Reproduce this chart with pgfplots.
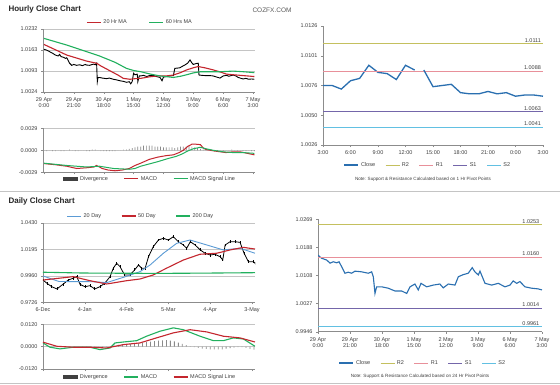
\documentclass[border=0pt]{standalone}
\usepackage{fontspec}
\setmainfont{Liberation Sans}
\usepackage{pgfplots}
\pgfplotsset{compat=1.18}
\definecolor{gridc}{HTML}{C4C4C4}
\definecolor{axc}{HTML}{8C8C8C}
\definecolor{txt}{HTML}{404040}
\definecolor{mared}{HTML}{C4262E}
\definecolor{magreen}{HTML}{22B05E}
\definecolor{closeblue}{HTML}{2A6FB0}
\definecolor{dblue}{HTML}{5B9BD5}
\definecolor{rtwo}{HTML}{C4C05E}
\definecolor{rone}{HTML}{E8909A}
\definecolor{sone}{HTML}{7466AA}
\definecolor{stwo}{HTML}{62C0E2}
\definecolor{divg}{HTML}{8A8A8A}
\tikzset{pivlab/.style={anchor=south east, font=\fontsize{5.5}{6.4}\selectfont, text=txt, inner sep=1pt}}
\pgfplotsset{
  panel/.style={
    scale only axis, anchor=south west,
    axis lines*=left, axis line style={axc, line width=0.5pt},
    tick style={axc, line width=0.4pt}, major tick length=2pt, tick align=outside,
    ticklabel style={font=\fontsize{5.5}{6.4}\selectfont, text=txt},
    xticklabel style={align=center},
    scaled y ticks=false, scaled x ticks=false,
    legend style={draw=none, fill=none, font=\fontsize{5.5}{6.5}\selectfont, text=txt, anchor=center, inner sep=0pt},
    legend columns=-1,
    legend image code/.code={\draw[##1] (0pt,0pt) -- (14pt,0pt);},
  },
  gridded/.style={ymajorgrids, major grid style={gridc, line width=0.4pt}},
}
\begin{document}
\begin{tikzpicture}
\useasboundingbox (0,0) rectangle (560pt,384pt);
\fill[white] (0,0) rectangle (560pt,384pt);
\draw[gridc, line width=0.6pt] (0,193pt) -- (560pt,193pt);
\draw[gridc, line width=0.5pt] (0,1pt) -- (560pt,1pt);
\node[anchor=west, font=\bfseries\fontsize{8}{9}\selectfont, text=black!85] at (5pt,375pt) {Hourly Close Chart};
\node[anchor=west, font=\bfseries\fontsize{8}{9}\selectfont, text=black!85] at (5pt,183pt) {Daily Close Chart};
\node[font=\fontsize{6.5}{7}\selectfont, text=black!65] at (272pt,374pt) {COZFX.COM};

% ---------------- Hourly close (top left)
\begin{axis}[panel, gridded, at={(43pt,292pt)}, width=212pt, height=63pt,
  xmin=-0.7, xmax=148.4, ymin=1.0024, ymax=1.0232,
  xtick={0,21,42,63,84,105,126,147},
  xticklabels={{29 Apr\\0:00},{29 Apr\\21:00},{30 Apr\\18:00},{1 May\\15:00},{2 May\\12:00},{3 May\\9:00},{6 May\\6:00},{7 May\\3:00}},
  ytick={1.0024,1.0093,1.0163,1.0232}, yticklabels={1.0024,1.0093,1.0163,1.0232},
  legend style={at={(0.458,1.11)}, /tikz/every even column/.append style={column sep=20pt}}]
\addplot[black, line width=0.9pt, forget plot] table {
0 1.0165
2 1.0162
4 1.0157
6 1.0152
8 1.0146
10 1.0143
11 1.0148
12 1.0141
14 1.0138
15 1.0135
16 1.0137
17 1.0128
18 1.0119
19.5 1.0112
21 1.0115
23 1.0112
25 1.0114
27 1.0111
29 1.0115
30 1.0113
32 1.0112
34.7 1.0116
36 1.0114
37 1.0119
37.5 1.0058
38 1.0072
39 1.0072
41 1.0070
44 1.0068
46 1.0070
48.8 1.0066
51 1.0064
53.5 1.0061
56 1.0059
58 1.0056
60 1.0058
61 1.0051
62 1.0058
63 1.0086
64 1.0081
65.6 1.0083
66 1.0058
67 1.0077
68 1.0077
70 1.0079
72.3 1.0075
74 1.0078
77 1.0079
79 1.0075
81.6 1.0072
83 1.0061
84 1.0073
86 1.0075
88 1.0077
91 1.0078
92 1.0102
94 1.0103
95.6 1.0104
97 1.0108
99 1.0113
101 1.0119
102.7 1.0130
104 1.0120
105 1.0115
107 1.0118
108.5 1.0119
109 1.0080
111 1.0079
114 1.0078
117 1.0078
119 1.0077
121 1.0074
123.8 1.0070
126 1.0077
128.4 1.0079
130 1.0076
133 1.0080
135 1.0077
136.6 1.0072
138 1.0070
140 1.0067
142 1.0069
144 1.0066
146 1.0067
148 1.0066
};
\addplot[mared, line width=1.1pt] table {
0 1.0181
16 1.0146
30 1.0126
37 1.0119
40 1.0110
46.4 1.0094
52 1.0080
55.8 1.0069
60.5 1.0066
64 1.0068
68 1.0069
74 1.0074
79.8 1.0077
86 1.0077
91 1.0080
96 1.0088
100.4 1.0097
105 1.0104
108.5 1.0108
113 1.0104
119 1.0097
124 1.0090
128.4 1.0083
133 1.0081
138 1.0079
143 1.0077
148 1.0075
};
\addlegendentry{20 Hr MA}
\addplot[magreen, line width=1.1pt] table {
0 1.0201
16 1.0179
39 1.0143
50 1.0122
58 1.0102
63 1.0095
68 1.0091
75 1.0083
81.6 1.0077
91 1.0072
96 1.0076
100.4 1.0081
105 1.0087
110 1.0091
117 1.0091
124 1.0091
133 1.0093
140 1.0091
148 1.0088
};
\addlegendentry{60 Hrs MA}
\end{axis}

% ---------------- Hourly MACD
\begin{axis}[panel, gridded, at={(43pt,211.7pt)}, width=212pt, height=44pt,
  xmin=-0.7, xmax=148.4, ymin=-0.0029, ymax=0.0029,
  xtick={0,21,42,63,84,105,126,147}, xticklabels={},
  ytick={-0.0029,0,0.0029}, yticklabels={-0.0029,0.0000,0.0029},
  legend style={at={(0.505,-0.152)}, /tikz/every even column/.append style={column sep=14pt}}]
\addplot[ybar, bar width=0.7pt, fill=divg, draw=none,
  legend image code/.code={\fill[black!75] (0pt,-1.6pt) rectangle (15pt,1.6pt);}] table {
0 0.0000
2 -0.0001
4 0.0000
6 -0.0001
8 -0.0001
10 0.0000
12 -0.0001
14 -0.0001
16 0.0000
18 0.0001
20 0.0000
22 -0.0001
24 -0.0001
26 0.0000
28 0.0000
30 -0.0001
32 -0.0001
34 0.0001
36 0.0001
38 0.0000
40 -0.0001
42 -0.0001
44 -0.0001
46 -0.0001
48 -0.0001
50 -0.0001
52 0.0000
54 0.0000
56 0.0001
58 0.0001
60 0.0002
62 0.0003
64 0.0004
66 0.0005
68 0.0005
70 0.0006
72 0.0006
74 0.0006
76 0.0006
78 0.0005
80 0.0005
82 0.0005
84 0.0004
86 0.0004
88 0.0004
90 0.0004
92 0.0003
94 0.0004
96 0.0005
98 0.0005
100 0.0005
102 0.0006
104 0.0005
106 0.0004
108 0.0003
110 0.0002
112 0.0001
114 0.0001
116 0.0000
118 0.0001
120 0.0000
122 -0.0001
124 0.0000
126 -0.0001
128 0.0000
130 0.0000
132 0.0001
134 0.0000
136 -0.0001
138 0.0000
140 -0.0001
142 -0.0001
144 0.0000
146 -0.0001
148 -0.0001
};
\addlegendentry{Divergence}
\addplot[mared, line width=1.0pt] table {
0 -0.00175
8 -0.0019
16 -0.0021
23 -0.0024
30 -0.0023
35 -0.0022
37 -0.0020
41 -0.0024
45 -0.0026
50 -0.0027
55 -0.0026
60 -0.0024
64 -0.0020
68 -0.0017
74 -0.0012
80 -0.0009
86 -0.0007
91 -0.0006
95 -0.0003
98 0.0000
101 0.0005
104 0.0008
107 0.0008
110 0.00075
112 0.0003
114 0.0001
120 -0.0001
128 -0.0003
133 -0.0002
138 -0.0002
143 -0.0004
148 -0.0006
};
\addlegendentry{MACD}
\addplot[magreen, line width=1.0pt] table {
0 -0.0017
16 -0.0020
30 -0.0022
39 -0.0021
49 -0.0024
60 -0.0025
64 -0.0024
68 -0.0021
74 -0.0018
80 -0.0015
87 -0.0011
93 -0.0008
97 -0.0005
101 -0.0001
105 0.0002
110 0.0004
114 0.0002
119 0.0000
126 -0.0002
133 -0.0003
140 -0.0003
148 -0.0004
};
\addlegendentry{MACD Signal Line}
\end{axis}

% ---------------- Hourly pivot (top right)
\begin{axis}[panel, at={(323pt,239pt)}, width=220pt, height=119pt,
  xmin=0, xmax=24, ymin=1.0026, ymax=1.0126,
  xtick={0,3,...,24}, xticklabels={3:00,6:00,9:00,12:00,15:00,18:00,21:00,0:00,3:00},
  ytick={1.0026,1.0051,1.0076,1.0101,1.0126}, yticklabels={1.0026,1.0050,1.0076,1.0101,1.0126},
  legend style={at={(0.477,-0.168)}, /tikz/every even column/.append style={column sep=8pt}}]
\addplot[closeblue, line width=1.3pt] table {
0 1.0076
1 1.0076
2 1.0073
3 1.0080
4 1.0082
5 1.0093
6 1.0087
7 1.0086
8 1.0081
9 1.0093
10 1.0089
};
\addlegendentry{Close}
\addplot[rtwo, line width=0.9pt] coordinates {(0,1.0111) (24,1.0111)};
\addlegendentry{R2}
\addplot[rone, line width=0.9pt] coordinates {(0,1.0088) (24,1.0088)};
\addlegendentry{R1}
\addplot[sone, line width=0.9pt] coordinates {(0,1.0054) (24,1.0054)};
\addlegendentry{S1}
\addplot[stwo, line width=0.9pt] coordinates {(0,1.0041) (24,1.0041)};
\addlegendentry{S2}
\addplot[closeblue, line width=1.3pt, forget plot] table {
11 1.0089
12 1.0075
13 1.0076
14 1.0077
15 1.0070
16 1.0069
17 1.0069
18 1.0071
19 1.0069
20 1.0070
21 1.0067
22 1.0068
23 1.0068
24 1.0067
};
\node[pivlab] at (axis cs:23.9,1.0111) {1.0111};
\node[pivlab] at (axis cs:23.9,1.0088) {1.0088};
\node[pivlab] at (axis cs:23.9,1.0054) {1.0063};
\node[pivlab] at (axis cs:23.9,1.0041) {1.0041};
\end{axis}
\node[font=\fontsize{4.6}{5}\selectfont, text=txt] at (423pt,205pt) {Note: Support \& Resistance Calculated based on 1 Hr Pivot Points};

% ---------------- Daily close (bottom left)
\begin{axis}[panel, gridded, at={(43pt,81.7pt)}, width=212pt, height=79.6pt,
  xmin=0, xmax=106.5, ymin=0.9726, ymax=1.0430,
  xtick={0,21,42,63,84,105}, xticklabels={6-Dec,4-Jan,4-Feb,5-Mar,4-Apr,3-May},
  ytick={0.9726,0.9960,1.0195,1.0430}, yticklabels={0.9726,0.9960,1.0195,1.0430},
  legend style={at={(0.462,1.084)}, /tikz/every even column/.append style={column sep=18pt}}]
\addplot[black, line width=0.8pt, forget plot, error bars/.cd, y dir=both, y fixed=0.0013, error mark=none, error bar style={black, line width=0.6pt}] table {
0 0.9923
2 0.9894
4.4 0.9864
7 0.9844
10 0.9885
12.7 0.9923
15 0.9938
17 0.9953
18.6 0.9885
21 0.9864
23.6 0.9873
26 0.9844
28.6 0.9864
31 0.9894
33.7 0.9953
35.3 1.0027
37 1.0071
38.7 1.0041
41 0.9968
43.7 0.9968
46 1.0012
48 1.0056
49.6 1.0027
51.3 1.0027
53 1.0129
55.4 1.0218
58 1.0277
60.5 1.0292
63 1.0277
65.5 1.0306
68 1.0262
70.5 1.0233
72.2 1.0204
74 1.0262
76.4 1.0233
79 1.0189
81.4 1.0160
84 1.0144
86.4 1.0151
89 1.0129
90.3 1.0100
91.5 1.0233
94 1.0262
96.5 1.0262
99 1.0256
101 1.0160
103.2 1.0085
105.7 1.0085
106.5 1.0071
};
\addplot[dblue, line width=0.9pt] table {
0 0.9959
8 0.9910
25 0.9908
32 0.9900
40.4 0.9947
48.7 0.9997
53.8 1.0056
60.5 1.0160
67.2 1.0248
73.9 1.0277
82.3 1.0233
90.6 1.0189
99 1.0204
106.5 1.0160
};
\addlegendentry{20 Day}
\addplot[mared, line width=1.1pt] table {
0 0.9923
15.2 0.9953
23.6 0.9917
32 0.9888
42 0.9917
48.7 0.9932
55.4 0.9968
62 1.0027
70.5 1.0100
78.9 1.0151
87.3 1.0160
94 1.0189
100.7 1.0212
106.5 1.0197
};
\addlegendentry{50 Day}
\addplot[magreen, line width=1.1pt] table {
0 0.9992
20 0.9985
40 0.9983
60 0.9982
80 0.9984
106.5 0.9988
};
\addlegendentry{200 Day}
\end{axis}

% ---------------- Daily MACD
\begin{axis}[panel, gridded, at={(43pt,15pt)}, width=212pt, height=44.7pt,
  xmin=0, xmax=106.5, ymin=-0.0120, ymax=0.0120,
  xtick={0,21,42,63,84,105}, xticklabels={},
  ytick={-0.012,0,0.012}, yticklabels={-0.0120,0.0000,0.0120},
  legend style={at={(0.505,-0.18)}, /tikz/every even column/.append style={column sep=14pt}}]
\addplot[ybar, bar width=0.8pt, fill=divg, draw=none,
  legend image code/.code={\fill[black!75] (0pt,-1.6pt) rectangle (15pt,1.6pt);}] table {
0 0.0002
2 0.0001
4 -0.0002
6 -0.0003
8 -0.0002
10 -0.0001
12 0.0000
14 0.0001
16 0.0001
18 0.0000
20 -0.0001
22 -0.0001
24 -0.0001
26 -0.0002
28 -0.0003
30 -0.0003
32 -0.0002
34 0.0003
36 0.0006
38 0.0009
40 0.0012
42 0.0013
44 0.0014
46 0.0015
48 0.0017
50 0.0020
52 0.0024
54 0.0027
56 0.0030
58 0.0032
60 0.0034
62 0.0035
64 0.0033
66 0.0029
68 0.0022
70 0.0015
72 0.0008
74 0.0002
76 -0.0003
78 -0.0007
80 -0.0010
82 -0.0012
84 -0.0014
86 -0.0015
88 -0.0015
90 -0.0014
92 -0.0011
94 -0.0008
96 -0.0005
98 -0.0003
100 -0.0002
102 -0.0006
104 -0.0012
106 -0.0016
};
\addlegendentry{Divergence}
\addplot[magreen, line width=1.1pt] table {
0 0.0020
3.5 -0.0003
8.5 -0.0012
15.2 -0.0003
23.6 -0.0003
28.6 -0.0016
33.7 -0.0007
36.2 0.0020
40.4 0.0025
47 0.0032
52 0.0056
58.8 0.0083
65.5 0.0101
70.5 0.0091
78.9 0.0056
85.6 0.0032
90.6 0.0032
95.6 0.0047
100.7 0.0041
106.5 0.0002
};
\addlegendentry{MACD}
\addplot[mared, line width=1.1pt] table {
0 0.0024
7 0.0002
15.2 -0.0003
23.6 -0.0003
32 -0.0007
40.4 0.0011
48.7 0.0020
57 0.0047
65.5 0.0074
73.9 0.0091
82.3 0.0079
90.6 0.0056
99 0.0047
106.5 0.0025
};
\addlegendentry{MACD Signal Line}
\end{axis}

% ---------------- Daily pivot (bottom right)
\begin{axis}[panel, at={(318pt,52.3pt)}, width=224pt, height=112.4pt,
  xmin=0, xmax=147, ymin=0.9946, ymax=1.0269,
  xtick={0,21,42,63,84,105,126,147},
  xticklabels={{29 Apr\\0:00},{29 Apr\\21:00},{30 Apr\\18:00},{1 May\\15:00},{2 May\\12:00},{3 May\\9:00},{6 May\\6:00},{7 May\\3:00}},
  ytick={0.9946,1.0027,1.0108,1.0188,1.0269}, yticklabels={0.9946,1.0027,1.0108,1.0188,1.0269},
  legend style={at={(0.469,-0.278)}, /tikz/every even column/.append style={column sep=8pt}}]
\addplot[closeblue, line width=1.1pt] table {
0 1.0166
2.4 1.0157
5.7 1.0152
7.9 1.0143
10 1.0147
12.3 1.0144
13.8 1.0147
15.5 1.0133
17.7 1.0114
19.9 1.0117
22 1.0114
24.3 1.0120
28.7 1.0118
33 1.0114
35.2 1.0118
36.3 1.0104
37.4 1.0056
38.5 1.0075
41.8 1.0075
46.1 1.0071
50.5 1.0063
54.9 1.0063
58.2 1.0056
60.4 1.0075
63.6 1.0083
65.8 1.0066
67.6 1.0085
71.3 1.0075
75.7 1.0080
80 1.0083
82.2 1.0072
85.5 1.0083
89.9 1.0080
92.1 1.0104
95.3 1.0110
98.6 1.0114
101.2 1.0130
103 1.0118
105.2 1.0109
106.3 1.0120
109.6 1.0085
114 1.0080
118.3 1.0085
122.7 1.0075
126 1.0080
128.1 1.0092
130.4 1.0085
132.5 1.0090
135.8 1.0075
140.2 1.0071
144.5 1.0069
147 1.0066
};
\addlegendentry{Close}
\addplot[rtwo, line width=0.9pt] coordinates {(0,1.0254) (147,1.0254)};
\addlegendentry{R2}
\addplot[rone, line width=0.9pt] coordinates {(0,1.0160) (147,1.0160)};
\addlegendentry{R1}
\addplot[sone, line width=0.9pt] coordinates {(0,1.0014) (147,1.0014)};
\addlegendentry{S1}
\addplot[stwo, line width=0.9pt] coordinates {(0,0.9961) (147,0.9961)};
\addlegendentry{S2}
\node[pivlab] at (axis cs:146,1.0254) {1.0253};
\node[pivlab] at (axis cs:146,1.0160) {1.0160};
\node[pivlab] at (axis cs:146,1.0014) {1.0014};
\node[pivlab] at (axis cs:146,0.9961) {0.9961};
\end{axis}
\node[font=\fontsize{4.6}{5}\selectfont, text=txt] at (420pt,8pt) {Note: Support \& Resistance Calculated based on 24 Hr Pivot Points};
\end{tikzpicture}
\end{document}
